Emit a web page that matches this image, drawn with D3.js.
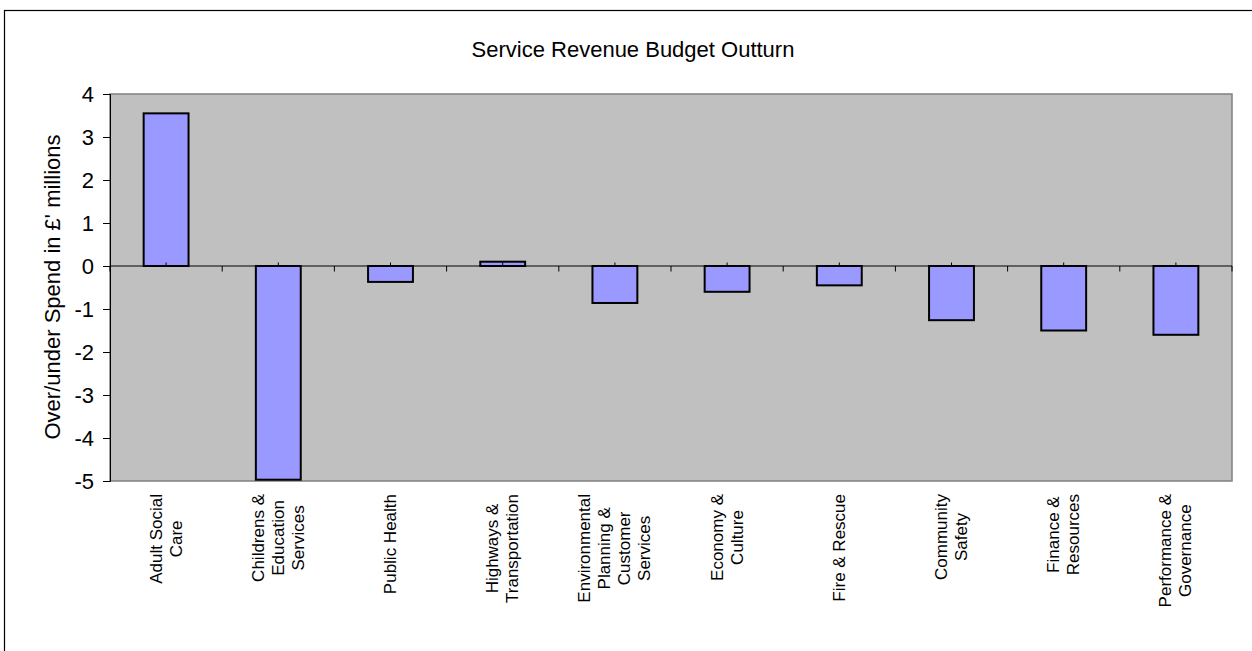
<!DOCTYPE html>
<html>
<head>
<meta charset="utf-8">
<script src="https://cdn.jsdelivr.net/npm/d3@7"></script>
<style>
  html, body { margin: 0; padding: 0; background: #fff; }
  svg { display: block; font-family: "Liberation Sans", Arial, sans-serif; }
</style>
</head>
<body>
<svg id="chart" width="1252" height="651"></svg>
<script>
// Service areas (each entry is one label line) and their over/under spend in £ millions
const categories = [
  ["Adult Social", "Care"],
  ["Childrens &", "Education", "Services"],
  ["Public Health"],
  ["Highways &", "Transportation"],
  ["Environmental", "Planning &", "Customer", "Services"],
  ["Economy &", "Culture"],
  ["Fire & Rescue"],
  ["Community", "Safety"],
  ["Finance &", "Resources"],
  ["Performance &", "Governance"]
];
const values = [3.55, -4.97, -0.37, 0.10, -0.86, -0.60, -0.45, -1.26, -1.50, -1.60];
const yTicks = [4, 3, 2, 1, 0, -1, -2, -3, -4, -5];
const titleText = "Service Revenue Budget Outturn";
const yTitle = "Over/under Spend in £' millions";

const svg = d3.select("#chart");
const plot = { left: 110, right: 1232, top: 94, bottom: 481 };

const keys = categories.map(c => c.join(" "));
const x = d3.scaleBand().domain(keys).range([plot.left, plot.right])
  .paddingInner(0.6).paddingOuter(0.3);
const y = d3.scaleLinear().domain([-5, 4]).range([plot.bottom, plot.top]);
const step = x.step();

// outer chart frame
svg.append("rect")
  .attr("x", 4.5).attr("y", 10.5).attr("width", 1270).attr("height", 680)
  .attr("fill", "#fff").attr("stroke", "#000").attr("stroke-width", 1.2);

// plot area
svg.append("rect")
  .attr("x", plot.left).attr("y", plot.top)
  .attr("width", plot.right - plot.left).attr("height", plot.bottom - plot.top)
  .attr("fill", "#c0c0c0").attr("stroke", "#808080").attr("stroke-width", 1.5);

// title
svg.append("text")
  .attr("x", 633).attr("y", 57)
  .attr("text-anchor", "middle").attr("font-size", 22).attr("fill", "#000")
  .text(titleText);

// bars
svg.append("g").selectAll("rect").data(values).join("rect")
  .attr("x", (d, i) => x(keys[i]))
  .attr("width", x.bandwidth())
  .attr("y", d => y(Math.max(0, d)))
  .attr("height", d => Math.abs(y(d) - y(0)))
  .attr("fill", "#9999ff").attr("stroke", "#000").attr("stroke-width", 2);

// value axis
const yAxis = d3.axisLeft(y).tickValues(yTicks).tickSize(7).tickPadding(9)
  .tickFormat(d3.format("d"));
const gy = svg.append("g").attr("transform", `translate(${plot.left},0)`).call(yAxis);
gy.select(".domain").attr("stroke", "#000");
gy.selectAll(".tick line").attr("stroke", "#000");
gy.selectAll(".tick text").attr("font-size", 22).attr("fill", "#000")
  .attr("font-family", "Liberation Sans, Arial, sans-serif")
  .text(d => String(d).replace("−", "-"));

// category axis along zero
const zeroY = y(0);
const gx = svg.append("g");
gx.append("line")
  .attr("x1", plot.left).attr("x2", plot.right)
  .attr("y1", zeroY).attr("y2", zeroY)
  .attr("stroke", "#000").attr("stroke-width", 1);
const boundaries = d3.range(keys.length + 1).map(i => plot.left + i * step);
gx.selectAll("line.major").data(boundaries).join("line").attr("class", "major")
  .attr("x1", d => d).attr("x2", d => d)
  .attr("y1", zeroY).attr("y2", zeroY + 5.5)
  .attr("stroke", "#000");
gx.selectAll("line.minor").data(keys).join("line").attr("class", "minor")
  .attr("x1", d => x(d) + x.bandwidth() / 2).attr("x2", d => x(d) + x.bandwidth() / 2)
  .attr("y1", zeroY).attr("y2", zeroY - 3.5)
  .attr("stroke", "#000");

// rotated category labels below the plot
const labelTop = plot.bottom + 13;
const lineGap = 20;
categories.forEach((lines, i) => {
  const cx = x(keys[i]) + x.bandwidth() / 2;
  const g = svg.append("g");
  const texts = lines.map((line, j) => g.append("text")
    .attr("text-anchor", "middle").attr("dominant-baseline", "central")
    .attr("font-size", 17).attr("fill", "#000").text(line));
  const maxLen = d3.max(texts, t => t.node().getComputedTextLength());
  const cy = labelTop + maxLen / 2;
  texts.forEach((t, j) => {
    const lx = cx + (j - (lines.length - 1) / 2) * lineGap;
    t.attr("transform", `translate(${lx},${cy}) rotate(-90)`);
  });
});

// value axis title
svg.append("text")
  .attr("transform", "translate(52,287) rotate(-90)")
  .attr("text-anchor", "middle").attr("dominant-baseline", "central")
  .attr("font-size", 22).attr("fill", "#000")
  .text(yTitle);
</script>
</body>
</html>
